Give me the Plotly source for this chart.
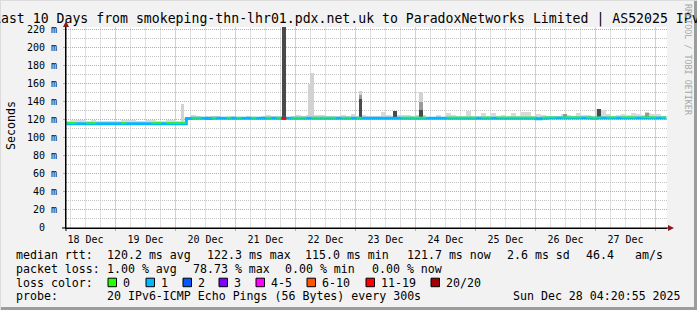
import plotly.graph_objects as go
import pandas as pd

# ---------------- data ----------------
START = "2025-12-18 04:20:55"
BIN_HOURS = 2  # each value below covers 2 hours, 12 values per row = 1 day

median_ms = [
    115.3, 115.3, 115.4, 115.3, 115.3, 115.2, 115.3, 115.3, 115.3, 115.4, 115.3, 115.3,
    115.3, 115.2, 115.3, 115.3, 115.3, 115.3, 115.4, 115.3, 115.3, 115.3, 115.2, 115.3,
    121.2, 121.3, 121.3, 121.3, 121.2, 121.3, 121.3, 121.3, 121.4, 121.3, 121.3, 121.3,
    121.3, 121.3, 121.3, 121.4, 121.3, 121.3, 121.3, 121.3, 121.3, 121.3, 121.3, 121.4,
    121.3, 121.3, 121.3, 121.3, 121.4, 121.3, 121.3, 121.3, 121.3, 121.3, 121.3, 121.3,
    121.3, 121.4, 121.3, 121.3, 121.3, 121.3, 121.4, 121.4, 121.4, 121.3, 121.4, 121.4,
    121.4, 121.4, 121.4, 121.4, 121.5, 121.4, 121.4, 121.4, 121.5, 121.4, 121.4, 121.5,
    121.5, 121.4, 121.5, 121.5, 121.5, 121.5, 121.5, 121.5, 121.5, 121.5, 120.8, 121.5,
    121.6, 121.6, 121.6, 121.6, 121.6, 121.6, 121.6, 121.6, 121.6, 121.3, 121.6, 121.6,
    121.6, 121.7, 121.6, 121.7, 121.7, 121.6, 121.7, 121.7, 121.7, 121.7, 121.7, 121.7,
]

smoke_max_ms = [
    118.0, 119.0, 119.5, 119.0, 118.5, 119.0, 118.0, 118.0, 118.5, 118.0, 118.0, 119.5,
    119.0, 119.0, 118.5, 118.0, 119.0, 119.5, 118.5, 118.0, 120.0, 119.0, 118.5, 118.5,
    123.0, 125.0, 123.5, 123.0, 123.5, 124.0, 123.5, 123.0, 123.0, 123.5, 123.0, 123.0,
    123.5, 123.0, 123.0, 124.0, 124.5, 124.0, 124.0, 124.0, 123.0, 124.0, 125.0, 124.0,
    125.0, 125.0, 124.5, 125.0, 124.0, 124.0, 124.0, 125.0, 123.5, 126.0, 124.0, 125.0,
    123.5, 124.0, 124.0, 128.5, 125.0, 124.0, 125.0, 125.0, 125.0, 124.0, 124.5, 125.0,
    123.0, 123.0, 124.5, 123.0, 127.0, 125.0, 123.5, 123.5, 129.5, 124.0, 124.0, 127.0,
    124.0, 127.0, 124.0, 125.0, 123.5, 127.0, 124.0, 128.0, 128.5, 123.5, 126.5, 125.0,
    123.5, 124.0, 123.5, 126.5, 125.5, 124.0, 127.5, 124.5, 125.0, 123.5, 131.5, 130.5,
    126.5, 124.0, 125.0, 126.5, 124.5, 127.0, 126.5, 124.5, 127.5, 126.0, 126.5, 123.0,
]

loss_count = [
    0, 0, 1, 1, 0, 0, 1, 1, 1, 1, 1, 0,
    1, 1, 1, 1, 1, 0, 0, 1, 0, 0, 0, 0,
    1, 0, 0, 1, 1, 0, 1, 1, 0, 1, 0, 1,
    1, 0, 1, 1, 0, 1, 0, 12, 1, 0, 0, 0,
    1, 0, 0, 0, 0, 0, 1, 0, 0, 1, 0, 1,
    1, 1, 1, 1, 1, 1, 1, 0, 0, 0, 0, 0,
    1, 1, 1, 1, 0, 0, 0, 0, 0, 0, 1, 0,
    0, 1, 0, 0, 0, 0, 0, 0, 0, 0, 1, 0,
    0, 0, 1, 0, 0, 0, 0, 1, 0, 0, 0, 1,
    0, 0, 1, 0, 0, 0, 1, 0, 0, 0, 1, 0,
]

# narrow smoke spikes: light = max ping, mid / dark = denser part of the smoke
spike_times = ["2025-12-20 02:45", "2025-12-21 19:30", "2025-12-22 05:40", "2025-12-22 06:40",
               "2025-12-23 02:00", "2025-12-23 15:45", "2025-12-24 02:10", "2025-12-26 11:45",
               "2025-12-27 01:30", "2025-12-27 20:30"]
spike_light_ms = [137.0, 260.0, 160.0, 172.0, 151.5, 130.0, 150.7, 126.5, 132.0, 128.0]
spike_mid_ms = [None, 260.0, None, None, 147.0, 129.5, 139.7, 126.3, 131.6, 127.7]
spike_dark_ms = [None, 260.0, None, None, 143.0, 129.4, 130.4, None, 131.5, None]

y_tick_values = [0, 20, 40, 60, 80, 100, 120, 140, 160, 180, 200, 220]
y_tick_labels = ["0\u00a0\u00a0", "20 m", "40 m", "60 m", "80 m", "100 m", "120 m",
                 "140 m", "160 m", "180 m", "200 m", "220 m"]
y_minor_values = [10, 30, 50, 70, 90, 110, 130, 150, 170, 190, 210]

loss_labels = ["0", "1", "2", "3", "4-5", "6-10", "11-19", "20/20"]
loss_colors = ["#26ff00", "#00b8ff", "#0059ff", "#7e00ff", "#ff00ff", "#ff5500", "#ff0000", "#a10000"]
loss_upper = [0, 1, 2, 3, 5, 10, 19, 20]

title_text = "Last 10 Days from smokeping-thn-lhr01.pdx.net.uk to ParadoxNetworks Limited | AS52025 IPv6"
y_title = "Seconds"
rtt_items = ["median rtt:", "120.2 ms avg", "122.3 ms max", "115.0 ms min",
             "121.7 ms now", "2.6 ms sd", "46.4", "am/s"]
loss_items = ["packet loss:", "1.00 % avg", "78.73 % max", "0.00 % min", "0.00 % now"]
color_title = "loss color:"
probe_items = ["probe:", "20 IPv6-ICMP Echo Pings (56 Bytes) every 300s"]
timestamp_text = "Sun Dec 28 04:20:55 2025"
watermark = "RRDTOOL / TOBI OETIKER"

# ---------------- geometry / style ----------------
W_FIG, H_FIG = 697, 310
L, T, W, H = 66, 27, 601, 201
PX_PER_MS = 0.9
Y_MIN = -0.5 / PX_PER_MS
Y_MAX = Y_MIN + H / PX_PER_MS
X_START = "2025-12-18 04:12:00"   # axis start: puts day lines on pixel centres
MONO = "DejaVu Sans Mono"
MAJOR_GRID = "#e39a9a"
MINOR_GRID = "#c4c4c4"
MAJOR_VGRID = "#efc4c4"
MINOR_VGRID = "#e0e0e0"
GREEN_LIFT = 0.75  # ms, lifts the green stripe over the blue one
SPIKE_H = 1.5


def px(x):
    return (x - L) / W


def py(y):
    return (T + H - y) / H


start = pd.Timestamp(START)
x0 = pd.Timestamp(X_START)
x_end = x0 + pd.Timedelta(days=1) * (W / 60)
step = pd.Timedelta(hours=BIN_HOURS)
n = len(median_ms)
bin_start = [start + step * i for i in range(n)]
bin_end = [s + step for s in bin_start]
bin_mid = [s + step / 2 for s in bin_start]
day0 = pd.Timestamp("2025-12-18")
x_major = [day0 + pd.Timedelta(days=d) for d in range(1, 11)]
x_minor = [day0 + pd.Timedelta(hours=h) for h in range(6, 246, 6) if h % 24]


def loss_class(c):
    for k, u in enumerate(loss_upper):
        if c <= u:
            return k
    return len(loss_upper) - 1


fig = go.Figure()

# grid, beneath the data
for vals, col in [(x_minor, MINOR_VGRID), (x_major, MAJOR_VGRID)]:
    for t in vals:
        fig.add_shape(type="line", xref="x", yref="y", x0=t, x1=t, y0=Y_MIN, y1=Y_MAX,
                      layer="below", line=dict(color=col, width=1))
for vals, col in [(y_minor_values, MINOR_GRID), (y_tick_values[1:], MAJOR_GRID)]:
    for v in vals:
        fig.add_shape(type="line", xref="x", yref="y", x0=x0, x1=x_end, y0=v, y1=v,
                      layer="below", line=dict(color=col, width=1, dash="1px,1px"))

# smoke (base level)
fig.add_trace(go.Bar(
    x=bin_mid, base=median_ms, y=[h - m for h, m in zip(smoke_max_ms, median_ms)],
    width=step.total_seconds() * 1000, marker=dict(color="#d9d9d9", line=dict(width=0)),
    hoverinfo="skip"))

# spikes
sp_t = [pd.Timestamp(t) for t in spike_times]
sp_base = [median_ms[min(n - 1, int((t - start) / step))] for t in sp_t]
sp_w = pd.Timedelta(hours=SPIKE_H).total_seconds() * 1000
for vals, col in [(spike_light_ms, "#d2d2d2"), (spike_mid_ms, "#9a9a9a"), (spike_dark_ms, "#4a4a4a")]:
    xs, bs, ys = [], [], []
    for t, b, v in zip(sp_t, sp_base, vals):
        if v is not None:
            xs.append(t)
            bs.append(b)
            ys.append(v - b)
    fig.add_trace(go.Bar(x=xs, base=bs, y=ys, width=sp_w,
                         marker=dict(color=col, line=dict(width=0)), hoverinfo="skip"))

# median line: blue base stripe
fig.add_trace(go.Scatter(
    x=bin_start + [bin_end[-1]], y=median_ms + [median_ms[-1]], mode="lines",
    line=dict(color=loss_colors[1], width=3, shape="hv"), hoverinfo="skip"))

# loss-coloured overlays
for k, col in enumerate(loss_colors):
    if k == 1:
        continue
    xs, ys = [], []
    for i in range(n):
        if loss_class(loss_count[i]) == k:
            lift = GREEN_LIFT if k == 0 else 0
            xs += [bin_start[i], bin_end[i], None]
            ys += [median_ms[i] + lift, median_ms[i] + lift, None]
    if xs:
        fig.add_trace(go.Scatter(x=xs, y=ys, mode="lines",
                                 line=dict(color=col, width=1.6 if k == 0 else 3),
                                 hoverinfo="skip"))

fig.update_layout(
    width=W_FIG, height=H_FIG,
    margin=dict(l=L, r=W_FIG - L - W, t=T, b=H_FIG - T - H, pad=0),
    paper_bgcolor="#f2f2f2", plot_bgcolor="#ffffff",
    showlegend=False, barmode="overlay", bargap=0,
    font=dict(family=MONO, size=10, color="#000000"),
    xaxis=dict(
        type="date", range=[x0, x_end],
        tickmode="linear", tick0="2025-12-18 00:00:00", dtick=86400000,
        ticklabelmode="period", tickformat="%d %b",
        showgrid=False,
        showline=True, linecolor="#000000", linewidth=1,
        ticks="outside", ticklen=2, tickcolor=MAJOR_GRID,
        ticklabelstandoff=0, zeroline=False,
        tickfont=dict(family=MONO, size=10, color="#000000"),
    ),
    yaxis=dict(
        range=[Y_MIN, Y_MAX], tickmode="array", tickvals=y_tick_values, ticktext=y_tick_labels,
        showgrid=False,
        showline=True, linecolor="#000000", linewidth=1,
        ticks="outside", ticklen=2, tickcolor=MAJOR_GRID,
        ticklabelstandoff=4, zeroline=False,
        tickfont=dict(family=MONO, size=10, color="#000000"),
    ),
)


def text(x, y, s, size=11.6, anchor="left", color="#000000", angle=0, yanchor="middle"):
    fig.add_annotation(xref="paper", yref="paper", x=px(x), y=py(y), text=s,
                       showarrow=False, xanchor=anchor, yanchor=yanchor, textangle=angle,
                       borderpad=0, borderwidth=0,
                       font=dict(family=MONO, size=size, color=color))


text(350, 19, title_text, size=13.2, anchor="center")
text(11, 126, y_title, angle=-90, anchor="center")
text(688, 60, watermark, size=8.4, anchor="center", color="#a8a8a8", angle=90)

rtt_x = [16, 107, 207, 305, 407, 507, 586, 635]
for x, s in zip(rtt_x, rtt_items):
    text(x, 255, s)
loss_x = [16, 107, 193, 285, 372]
for x, s in zip(loss_x, loss_items):
    text(x, 268.5, s)
text(16, 282.5, color_title)
box_x = [108, 146, 183, 219, 256, 307, 366, 431]
for x, lab, col in zip(box_x, loss_labels, loss_colors):
    fig.add_shape(type="rect", xref="paper", yref="paper",
                  x0=px(x), x1=px(x + 8.5), y0=py(278.2), y1=py(286.7),
                  fillcolor=col, line=dict(color="#000000", width=1))
    text(x + 15, 282.5, lab)
probe_x = [16, 107]
for x, s in zip(probe_x, probe_items):
    text(x, 296, s)
text(681, 296, timestamp_text, anchor="right")

# axis extensions and arrow heads
fig.add_shape(type="line", xref="paper", yref="paper", x0=px(66), x1=px(66), y0=py(231), y1=py(23),
              line=dict(color="#000000", width=1))
fig.add_shape(type="line", xref="paper", yref="paper", x0=px(62), x1=px(670), y0=py(228), y1=py(228),
              line=dict(color="#000000", width=1))
fig.add_shape(type="path", xref="paper", yref="paper",
              path=f"M {px(63)} {py(27)} L {px(69)} {py(27)} L {px(66)} {py(21)} Z",
              fillcolor="#8b1a1a", line=dict(width=0))
fig.add_shape(type="path", xref="paper", yref="paper",
              path=f"M {px(668)} {py(225)} L {px(668)} {py(231)} L {px(674)} {py(228)} Z",
              fillcolor="#8b1a1a", line=dict(width=0))

# frame of the canvas
fig.add_shape(type="line", xref="paper", yref="paper", x0=px(695.5), x1=px(695.5), y0=py(0), y1=py(310),
              line=dict(color="#9c9c9c", width=3))
fig.add_shape(type="line", xref="paper", yref="paper", x0=px(0), x1=px(697), y0=py(308.5), y1=py(308.5),
              line=dict(color="#9c9c9c", width=3))
fig.add_shape(type="line", xref="paper", yref="paper", x0=px(0), x1=px(697), y0=py(0.5), y1=py(0.5),
              line=dict(color="#dcdcdc", width=1))
fig.add_shape(type="line", xref="paper", yref="paper", x0=px(0.5), x1=px(0.5), y0=py(0), y1=py(310),
              line=dict(color="#dcdcdc", width=1))

fig.write_html("out.html")
